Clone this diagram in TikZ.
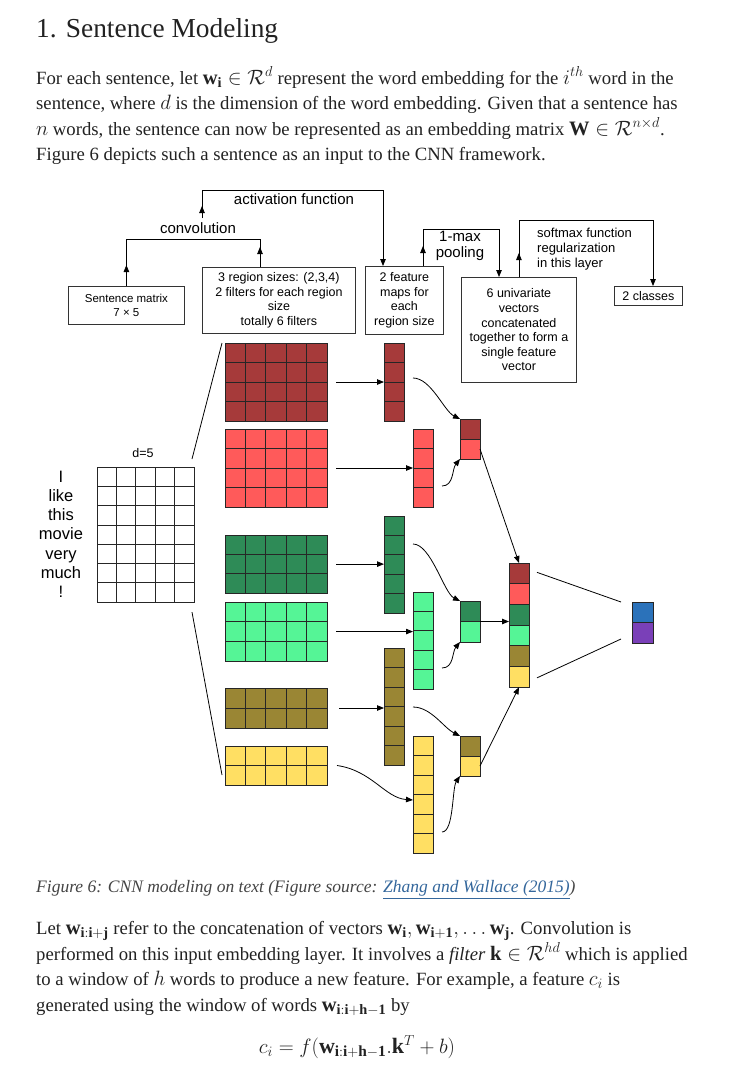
\documentclass[tikz,border=0pt]{standalone}
\usepackage{amsmath}
\usepackage{fontspec}
\setmainfont{Liberation Serif}
\newfontfamily\dia{Liberation Sans}
\usetikzlibrary{arrows.meta,calc}
\definecolor{cDR}{HTML}{A63A3A}
\definecolor{cR}{HTML}{FF5A5A}
\definecolor{cDG}{HTML}{2E8B57}
\definecolor{cLG}{HTML}{55F596}
\definecolor{cOL}{HTML}{9A8634}
\definecolor{cY}{HTML}{FFDF63}
\definecolor{cBL}{HTML}{2B72BA}
\definecolor{cPU}{HTML}{7A40B8}
\definecolor{txt}{HTML}{222222}
\definecolor{capc}{HTML}{444444}
\definecolor{lnk}{HTML}{34679C}
\newcommand{\fsz}[2]{\fontsize{#1}{#2}\selectfont}
\newcommand{\mth}[1]{{\fsz{20.5}{22}$#1$}}
% name, x, y, cols, rows, cw, ch, colour
\newcommand{\blk}[8]{%
  \node[blkbox, fill=#8, minimum width={#4*#6*1pt}, minimum height={#5*#7*1pt}] (#1) at (#2,#3) {};
  \ifnum#4>1 \foreach \i in {2,...,#4} {\draw[gridl] ($(#1.north west)+({(\i-1)*#6},0)$) -- ++(0,{#5*#7});}\fi
  \ifnum#5>1 \foreach \j in {2,...,#5} {\draw[gridl] ($(#1.north west)+(0,{(\j-1)*#7})$) -- ++({#4*#6},0);}\fi
}
\begin{document}
\begin{tikzpicture}[x=1pt,y=-1pt,
  body/.style={anchor=base west, inner sep=0pt, text=txt, font=\fsz{18.7}{22}},
  ln/.style={line width=0.8pt, draw=black},
  arr/.style={ln, -{Triangle[length=7pt,width=5.5pt]}},
  tbox/.style={draw=black!80, line width=0.8pt, anchor=north west, inner sep=0pt, align=center, font=\dia\fsz{12.5}{14.6}},
  lbl/.style={font=\dia\fsz{15}{16}, inner sep=0pt},
  blkbox/.style={draw=black!85, line width=0.8pt, anchor=north west, inner sep=0pt, outer sep=0pt},
  gridl/.style={draw=black!85, line width=0.8pt},
  word/.style={anchor=base, inner sep=0pt, font=\dia\fsz{16.5}{18}}
]
\useasboundingbox (0,0) rectangle (735,1072);
\fill[white] (0,0) rectangle (735,1072);

% ---------- text above ----------
\node[anchor=base west, inner sep=0pt, text=txt, font=\fsz{27.4}{30}] (head) at (36,37) {1. Sentence Modeling};
\node[body] (p1) at (36,84) {For each sentence, let \mth{\mathbf{w}_{\mathbf{i}} \in \mathcal{R}^d} represent the word embedding for the \mth{i^{th}} word in the};
\node[body] (p2) at (36,109.5) {sentence, where \mth{d} is the dimension of the word embedding. Given that a sentence has};
\node[body] (p3) at (36,135) {\mth{n} words, the sentence can now be represented as an embedding matrix \mth{\mathbf{W} \in \mathcal{R}^{n\times d}}.};
\node[body] (p4) at (36,160.5) {Figure 6 depicts such a sentence as an input to the CNN framework.};

% ---------- top boxes ----------
\node[tbox, font=\dia\fsz{11.5}{14}, minimum width=116pt, minimum height=38pt] (sbox) at (68,286) {Sentence matrix\\7 × 5};
\node[tbox, minimum width=153pt, minimum height=66pt] (fbox) at (202,267) {3 region sizes: (2,3,4)\\2 filters for each region\\size\\totally 6 filters};
\node[tbox, minimum width=78pt, minimum height=68pt] (fm) at (365,266) {2 feature\\maps for\\each\\region size};
\node[tbox, minimum width=115pt, minimum height=105pt] (uv) at (461,277) {6 univariate\\vectors\\concatenated\\together to form a\\single feature\\vector};
\node[tbox, minimum width=68pt, minimum height=19pt] (cls) at (614,286) {2 classes};

\node[lbl] (convl) at (198,228) {convolution};
\node[lbl] (actl) at (294,199) {activation function};
\node[lbl, align=center, font=\dia\fsz{15}{15.5}] (mpl) at (460,246) {1-max\\pooling};
\node[anchor=west, align=left, inner sep=0pt, font=\dia\fsz{13}{15}] (smx) at (537,249) {softmax function\\regularization\\in this layer};

% brackets
\coordinate (cb) at (260,239);
\draw[ln] (sbox.north) |- (cb) -- (cb |- fbox.north);
\draw[arr] (sbox.north) -- ++(0,-21);
\draw[arr] (cb |- fbox.north) -- ++(0,-20);

\coordinate (aL) at (202,218);
\coordinate (aR) at (383,190);
\draw[arr] (aL) |- (aR) -- (aR |- fm.north);
\draw[arr] (aL) -- ++(0,-12);

\coordinate (mp) at (499,229);
\draw[arr] ([xshift=58pt]fm.north west) |- (mp) -- (mp |- uv.north);
\draw[arr] ([xshift=58pt]fm.north west) -- ++(0,-20);

\coordinate (sx) at (653,220);
\draw[arr] (uv.north) |- (sx) -- (sx |- cls.north);
\draw[arr] (uv.north) -- ++(0,-24);

% ---------- sentence matrix ----------
\blk{mat}{97}{467}{5}{7}{19.4}{19.3}{white}
\node[anchor=base, inner sep=0pt, font=\dia\fsz{12.5}{14}] (dl) at (143,457.5) {d=5};
\node[word] (w1) at (61,482) {I};
\node[word] (w2) at (61,501.3) {like};
\node[word] (w3) at (61,520.6) {this};
\node[word] (w4) at (61,539.9) {movie};
\node[word] (w5) at (61,559.2) {very};
\node[word] (w6) at (61,578.5) {much};
\node[word] (w7) at (61,597.8) {!};

% ---------- filters ----------
\blk{f1}{225}{343}{5}{4}{20.4}{19.5}{cDR}
\blk{f2}{225}{429}{5}{4}{20.4}{19.5}{cR}
\blk{f3}{225}{535}{5}{3}{20.4}{19.4}{cDG}
\blk{f4}{225}{602}{5}{3}{20.4}{19.7}{cLG}
\blk{f5}{225}{688}{5}{2}{20.4}{20}{cOL}
\blk{f6}{225}{746}{5}{2}{20.4}{19.5}{cY}

\draw[ln] ($(mat.north east)+(-2,-8)$) -- ($(f1.north west)+(-3,0)$);
\draw[ln] ($(mat.south east)+(-2,10)$) -- ($(f6.south west)+(-3,-10)$);

% ---------- feature maps ----------
\blk{v1}{384}{343}{1}{4}{20}{19.5}{cDR}
\blk{v2}{413}{429}{1}{4}{20}{19.5}{cR}
\blk{v3}{384}{516}{1}{5}{20}{19.4}{cDG}
\blk{v4}{413}{592}{1}{5}{20}{19.4}{cLG}
\blk{v5}{384}{648}{1}{6}{20}{19.5}{cOL}
\blk{v6}{413}{736}{1}{6}{20}{19.5}{cY}

\draw[arr] ([xshift=9pt]f1.east) -- (f1.east -| v1.west);
\draw[arr] ([xshift=9pt]f2.east) -- (f2.east -| v2.west);
\draw[arr] ([xshift=9pt]f3.east) -- (f3.east -| v3.west);
\draw[arr] ([xshift=9pt]f4.east) -- (f4.east -| v4.west);
\draw[arr] ([xshift=12pt]f5.east) -- (f5.east -| v5.west);
\draw[arr] ([xshift=10pt]f6.east) .. controls +(35,5) and +(-28,-2) .. ($(v6.west)+(0,5.5)$);

% ---------- pooled ----------
\node[blkbox, fill=cDR, minimum width=20pt, minimum height=20pt] (p1a) at (460,419) {};
\node[blkbox, fill=cR, minimum width=20pt, minimum height=20pt] (p1b) at (460,439) {};
\node[blkbox, fill=cDG, minimum width=20pt, minimum height=20.5pt] (p2a) at (460,601) {};
\node[blkbox, fill=cLG, minimum width=20pt, minimum height=20.5pt] (p2b) at (460,621.5) {};
\node[blkbox, fill=cOL, minimum width=20pt, minimum height=20pt] (p3a) at (460,736) {};
\node[blkbox, fill=cY, minimum width=20pt, minimum height=20pt] (p3b) at (460,756) {};

\draw[arr] ($(v1.east)+(9,-4)$) .. controls +(18,0) and +(-16,-8) .. (p1a.north west);
\draw[arr] ($(v2.east)+(9,18)$) .. controls +(12,0) and +(-8,10) .. (p1b.south west);
\draw[arr] ($(v3.east)+(9,-20.5)$) .. controls +(18,0) and +(-16,-8) .. (p2a.north west);
\draw[arr] ($(v4.east)+(9,27.5)$) .. controls +(12,0) and +(-8,10) .. (p2b.south west);
\draw[arr] ($(v5.east)+(9,0.5)$) .. controls +(18,0) and +(-16,-8) .. (p3a.north west);
\draw[arr] ($(v6.east)+(9,37.5)$) .. controls +(12,0) and +(-8,12) .. (p3b.south west);

% ---------- concatenated ----------
\node[blkbox, fill=cDR, minimum width=20pt, minimum height=20.7pt] (c1) at (509,563) {};
\node[blkbox, fill=cR, minimum width=20pt, minimum height=20.7pt] (c2) at (509,583.7) {};
\node[blkbox, fill=cDG, minimum width=20pt, minimum height=20.7pt] (c3) at (509,604.4) {};
\node[blkbox, fill=cLG, minimum width=20pt, minimum height=20.7pt] (c4) at (509,625.1) {};
\node[blkbox, fill=cOL, minimum width=20pt, minimum height=20.7pt] (c5) at (509,645.8) {};
\node[blkbox, fill=cY, minimum width=20pt, minimum height=20.7pt] (c6) at (509,666.5) {};

\draw[arr] (p1b.east) -- (c1.north);
\draw[arr] (p2a.south east) -- (p2a.south east -| c3.west);
\draw[arr] (p3b.east) -- (c6.south);

% ---------- output ----------
\node[blkbox, fill=cBL, minimum width=21pt, minimum height=20.5pt] (o1) at (632,602) {};
\node[blkbox, fill=cPU, minimum width=21pt, minimum height=20.5pt] (o2) at (632,622.5) {};
\draw[ln] ($(c1.east)+(8,-1)$) -- ($(o1.north west)+(-11,0)$);
\draw[ln] ($(c6.east)+(8,1)$) -- ($(o2.south west)+(-11,-4)$);

% ---------- caption and text below ----------
\node[anchor=base west, inner sep=0pt, text=capc, font=\fsz{17.5}{20}\itshape] (cap) at (36,892) {Figure 6: CNN modeling on text (Figure source: \textcolor{lnk}{\underline{Zhang and Wallace (2015)}})};
\node[body] (q1) at (36,934) {Let \mth{\mathbf{w}_{\mathbf{i:i}+\mathbf{j}}} refer to the concatenation of vectors \mth{\mathbf{w}_{\mathbf{i}}, \mathbf{w}_{\mathbf{i}+\mathbf{1}}, \ldots\mathbf{w}_{\mathbf{j}}}. Convolution is};
\node[body] (q2) at (36,960) {performed on this input embedding layer. It involves a \textit{filter} \mth{\mathbf{k} \in \mathcal{R}^{hd}} which is applied};
\node[body] (q3) at (36,985.5) {to a window of \mth{h} words to produce a new feature. For example, a feature \mth{c_i} is};
\node[body] (q4) at (36,1011) {generated using the window of words \mth{\mathbf{w}_{\mathbf{i:i}+\mathbf{h}-\mathbf{1}}} by};
\node[anchor=base, inner sep=0pt, text=txt, font=\fsz{22}{24}] (eq) at (357,1053) {$c_i = f(\mathbf{w}_{\mathbf{i:i}+\mathbf{h}-\mathbf{1}}.\mathbf{k}^T + b)$};
\end{tikzpicture}
\end{document}
